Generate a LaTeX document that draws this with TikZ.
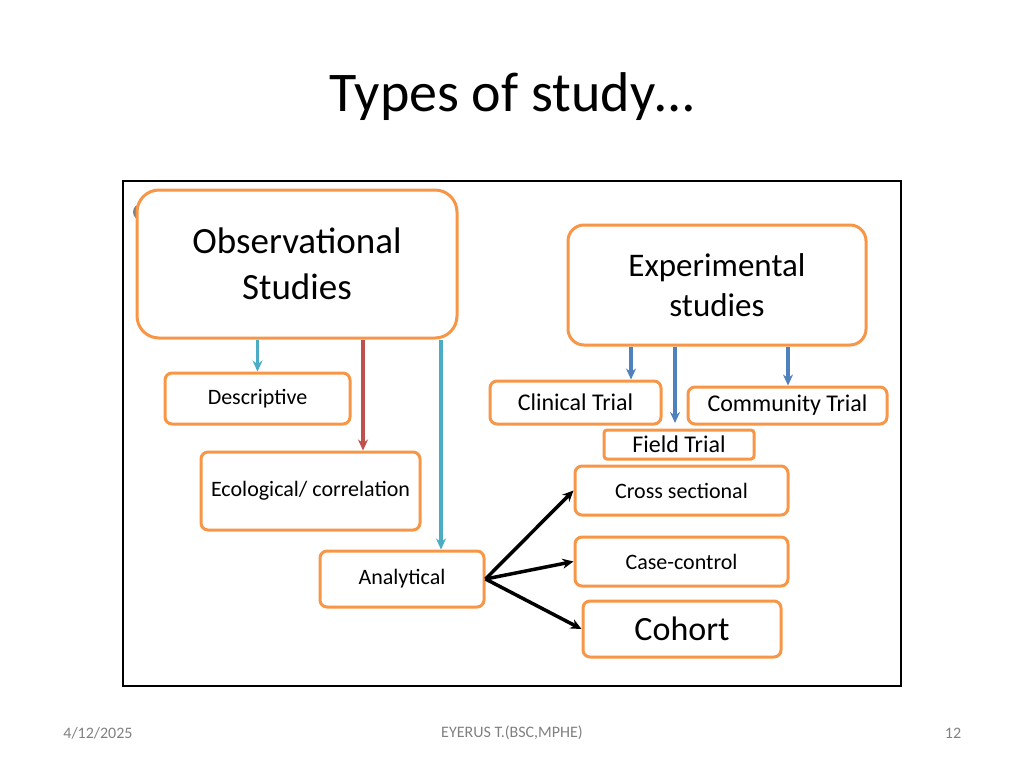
\documentclass[tikz,border=0pt]{standalone}
\usepackage{fontspec}
\setmainfont{Carlito}
\usetikzlibrary{positioning,arrows.meta}
\definecolor{boxorange}{HTML}{F79646}
\definecolor{tealarrow}{HTML}{4BACC6}
\definecolor{bluearrow}{HTML}{4F81BD}
\definecolor{redarrow}{HTML}{C0504D}
\tikzset{obox/.style={rectangle,rounded corners=7pt,draw=boxorange,line width=3pt,fill=white}}
\tikzset{bigbox/.style={obox,rounded corners=22pt}}
\tikzset{downarrow/.style={-{Stealth[length=11pt,width=10pt]},line width=3.5pt}}

\begin{document}
\begin{tikzpicture}[x=1pt,y=-1pt]
        \useasboundingbox (0,0) rectangle (1024,768);
        \node (title) at (512,97) {\fontsize{56}{56}\selectfont Types of study…};
        \draw[line width=2.5pt] (123,181) rectangle (901,686);
        \fill[gray] (141,212) circle (8);

        \node[bigbox,minimum width=320pt,minimum height=148pt,font=\fontsize{37}{46}\selectfont,align=center] (obs) at (297,264) {Observational\\Studies};
        \node[obox,rounded corners=16pt,minimum width=298pt,minimum height=120pt,font=\fontsize{33}{40}\selectfont,align=center] (exp) at (717,285) {Experimental\\studies};

        \node[obox,minimum width=185pt,minimum height=51pt,font=\fontsize{22}{22}\selectfont] (desc) at (257.5,398.5) {Descriptive};
        \node[obox,minimum width=219pt,minimum height=78pt,font=\fontsize{22}{22}\selectfont] (eco) at (310.5,491) {Ecological/ correlation};
        \node[obox,minimum width=164pt,minimum height=56pt,font=\fontsize{22}{22}\selectfont] (ana) at (402,579) {Analytical};

        \node[obox,minimum width=171pt,minimum height=43pt,font=\fontsize{24}{24}\selectfont] (clin) at (575.5,402.5) {Clinical Trial};
        \node[obox,minimum width=199pt,minimum height=37pt,font=\fontsize{24}{24}\selectfont] (comm) at (787.5,405.5) {Community Trial};
        \node[obox,rounded corners=3pt,minimum width=150pt,minimum height=29pt,inner sep=1pt,font=\fontsize{24}{24}\selectfont] (field) at (679,444.5) {Field Trial};
        \node[obox,minimum width=213pt,minimum height=49pt,font=\fontsize{22}{22}\selectfont] (cross) at (681.5,490.5) {Cross sectional};
        \node[obox,minimum width=213pt,minimum height=49pt,font=\fontsize{22}{22}\selectfont] (cc) at (681.5,561.5) {Case-control};
        \node[obox,minimum width=198pt,minimum height=56pt,font=\fontsize{34}{34}\selectfont] (coh) at (682,629) {Cohort};

        \draw[downarrow,tealarrow] (obs.south -| desc) -- (desc);
        \draw[downarrow,redarrow] (obs.south -| 363,0) -- (eco.north -| 363,0);
        \draw[downarrow,tealarrow] (obs.south -| 441,0) -- (ana.north -| 441,0);
        \draw[downarrow,bluearrow] (exp.south -| 631,0) -- (clin.north -| 631,0);
        \draw[downarrow,bluearrow] (exp.south -| 675,0) -- (675,423);
        \draw[downarrow,bluearrow] (exp.south -| 788,0) -- (comm.north -| 788,0);

        \draw[downarrow] (ana.east) -- (cross.west);
        \draw[downarrow] (ana.east) -- (cc.west);
        \draw[downarrow] (ana.east) -- (coh.west);

        \node[text=gray,font=\fontsize{16}{16}\selectfont] (date) at (98,733) {4/12/2025};
        \node[text=gray,font=\fontsize{16}{16}\selectfont] (author) at (512,733) {EYERUS T.(BSC,MPHE)};
        \node[text=gray,font=\fontsize{16}{16}\selectfont] (page) at (953,733) {12};
\end{tikzpicture}
\end{document}
